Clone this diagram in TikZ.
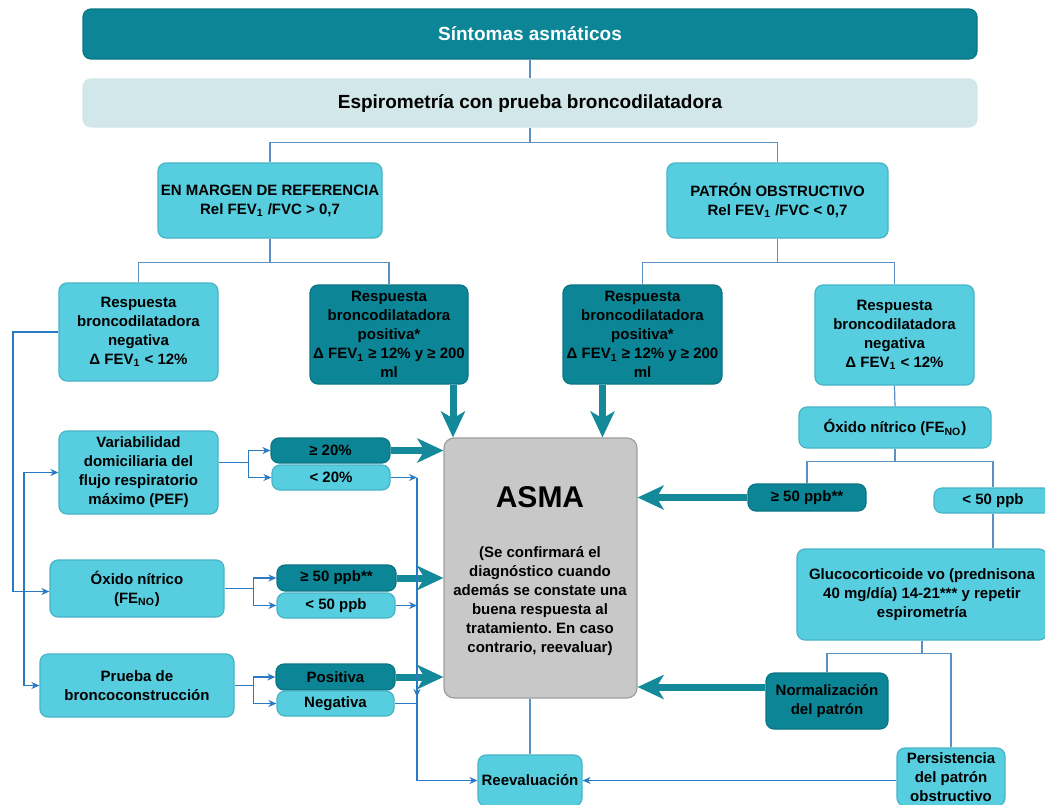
\documentclass[tikz,border=0pt]{standalone}
\usepackage{fontspec}
\setmainfont{Liberation Sans}
\usepackage{tikz}
\usetikzlibrary{arrows.meta}
\frenchspacing

\definecolor{azulosc}{HTML}{0C8696}
\definecolor{azuloscborde}{HTML}{0A7583}
\definecolor{cian}{HTML}{56CEDF}
\definecolor{cianborde}{HTML}{46B4C6}
\definecolor{grisazul}{HTML}{D2E7E9}
\definecolor{lineaazul}{HTML}{5A91C4}
\definecolor{flechaazul}{HTML}{2A79C4}
\definecolor{flechateal}{HTML}{13899A}
\definecolor{grisasma}{HTML}{C8C8C8}
\definecolor{grisborde}{HTML}{9E9E9E}

\tikzset{
    tam/.style 2 args={minimum width=#1*0.5pt,minimum height=#2*0.5pt},
    caja/.style={draw=cianborde,fill=cian,rounded corners=4pt,align=center,
        inner sep=0pt,line width=0.6pt},
    cajaosc/.style={caja,draw=azuloscborde,fill=azulosc},
    linea/.style={draw=lineaazul,line width=0.6pt},
    flechafina/.style={draw=flechaazul,line width=0.7pt,->},
    flechagruesa/.style={draw=flechateal,line width=3.5pt,
        -{Stealth[length=13pt,width=12pt,inset=3.5pt]}}
}

\begin{document}
\begin{tikzpicture}[x=0.5pt,y=-0.5pt,font=\fontsize{7.5}{9.5}\selectfont\bfseries,
    >={Stealth[length=4pt,width=3.5pt]}]
    \path[use as bounding box] (0,0) rectangle (1045,804);

    % Cabecera.
    \node[cajaosc,tam={894}{50},text=white,font=\fontsize{9.5}{11}\selectfont\bfseries]
        (sintomas) at (530,34) {Síntomas asmáticos};
    \node[caja,draw=grisazul,fill=grisazul,tam={894}{48},font=\fontsize{9.5}{11}\selectfont\bfseries]
        (espiro) at (530,103) {Espirometría con prueba broncodilatadora};
    \draw[linea] (sintomas.south) -- (espiro.north);

    % Patrones espirométricos.
    \node[caja,tam={224}{75}] (margen) at (270,200.5)
        {EN MARGEN DE REFERENCIA\\Rel FEV\textsubscript{1} /FVC > 0,7};
    \node[caja,tam={221}{75}] (patron) at (777.5,200.5)
        {PATRÓN OBSTRUCTIVO\\Rel FEV\textsubscript{1} /FVC < 0,7};
    \draw[linea] (espiro.south) -- (espiro.south |- 0,143);
    \draw[linea] (margen.north) -- ++(0,-20) -| (patron.north);

    % Respuesta broncodilatadora.
    \node[caja,tam={159}{98}] (negizq) at (138.5,332)
        {Respuesta\\broncodilatadora\\negativa\\Δ FEV\textsubscript{1} < 12\%};
    \node[cajaosc,tam={158}{99}] (posizq) at (389,334.5)
        {Respuesta\\broncodilatadora\\positiva*\\Δ FEV\textsubscript{1} ≥ 12\% y ≥ 200\\ml};
    \node[cajaosc,tam={159}{99}] (posder) at (642.5,334.5)
        {Respuesta\\broncodilatadora\\positiva*\\Δ FEV\textsubscript{1} ≥ 12\% y ≥ 200\\ml};
    \node[caja,tam={159}{100}] (negder) at (894.5,335)
        {Respuesta\\broncodilatadora\\negativa\\Δ FEV\textsubscript{1} < 12\%};
    \draw[linea] (margen.south) -- ++(0,24) -| (negizq.north);
    \draw[linea] (margen.south) ++(0,24) -| (posizq.north);
    \draw[linea] (patron.south) -- ++(0,24) -| (posder.north);
    \draw[linea] (patron.south) ++(0,24) -| (negder.north);

    % Diagnóstico central.
    \node[draw=grisborde,fill=grisasma,rounded corners=5pt,line width=0.6pt,tam={193}{260}]
        (asma) at (540.5,568) {};
    \node (asmatit) at (540,497) {\fontsize{15}{18}\selectfont ASMA};
    \node[align=center] (asmatxt) at (540,601)
        {(Se confirmará el\\diagnóstico cuando\\además se constate una\\buena respuesta al\\tratamiento. En caso\\contrario, reevaluar)};
    \draw[flechagruesa] ([xshift=32pt]posizq.south) -- ([xshift=32pt]posizq.south |- asma.north);
    \draw[flechagruesa] ([xshift=-20pt]posder.south) -- ([xshift=-20pt]posder.south |- asma.north);

    % Pruebas complementarias (columna izquierda).
    \node[caja,tam={159}{83}] (variab) at (138.5,472.5)
        {Variabilidad\\domiciliaria del\\flujo respiratorio\\máximo (PEF)};
    \node[caja,tam={174}{57}] (oxizq) at (137,588.5) {Óxido nítrico\\(FE\textsubscript{NO})};
    \node[caja,tam={194}{63}] (prueba) at (137,685.5) {Prueba de\\broncoconstrucción};
    \draw[flechafina] (negizq.west) -- (13,332) |- ([yshift=-1.5pt]oxizq.west);
    \draw[flechafina] (24,591.5) |- (variab.west);
    \draw[flechafina] (24,591.5) |- (prueba.west);

    \node[cajaosc,tam={119}{25}] (var1) at (330.5,450.5) {≥ 20\%};
    \node[caja,tam={118}{25}] (var2) at (331,477.5) {< 20\%};
    \node[cajaosc,tam={119}{26}] (oxi1) at (336.5,578) {≥ 50 ppb**};
    \node[caja,tam={118}{25}] (oxi2) at (336,605.5) {< 50 ppb};
    \node[cajaosc,tam={119}{26}] (pos) at (335.5,677) {Positiva};
    \node[caja,tam={117}{25}] (neg) at (335.5,703.5) {Negativa};

    \draw[flechafina] ([yshift=5pt]variab.east) -- ++(30,0) |- (var1.west);
    \draw[flechafina] ([yshift=5pt]variab.east) ++(30,0) |- (var2.west);
    \draw[flechafina] (oxizq.east) -- ++(29,0) |- (oxi1.west);
    \draw[flechafina] (oxizq.east) ++(29,0) |- (oxi2.west);
    \draw[flechafina] (prueba.east) -- ++(19,0) |- (pos.west);
    \draw[flechafina] (prueba.east) ++(19,0) |- (neg.west);

    \foreach \n in {var1,oxi1,pos}{
        \draw[flechagruesa] (\n.east) -- (\n.east -| asma.west);
    }

    % Reevaluación.
    \node[caja,tam={104}{51}] (reeval) at (530,780.5) {Reevaluación};
    \coordinate (bajada) at (417,780.5);
    \foreach \n in {var2,oxi2}{
        \draw[flechafina] (\n.east) -- (\n.east -| bajada);
    }
    \draw[linea,draw=flechaazul] (neg.east) -- (neg.east -| bajada);
    \draw[flechafina] (var2.east -| bajada) -- (bajada) -- (reeval.west);
    \draw[flechafina] (417,660) -- (417,697);
    \draw[linea] (reeval.north |- asma.south) -- (reeval.north);

    % Patrón obstructivo (columna derecha).
    \node[caja,tam={192}{41}] (oxider) at (895,427.5) {Óxido nítrico (FE\textsubscript{NO})};
    \node[cajaosc,tam={118}{27}] (oxd1) at (807,497.5) {≥ 50 ppb**};
    \node[caja,tam={118}{25}] (oxd2) at (993,500.5) {< 50 ppb};
    \node[caja,tam={250}{91}] (gluco) at (922,594.5)
        {Glucocorticoide vo (prednisona\\40 mg/día) 14-21*** y repetir\\espirometría};
    \node[cajaosc,tam={122}{56}] (normal) at (827,701) {Normalización\\del patrón};
    \node[caja,tam={108}{58}] (persist) at (951,777) {Persistencia\\del patrón\\obstructivo};

    \draw[linea] (negder.south) -- (oxider.north);
    \draw[linea] (oxider.south) -- ++(0,13) -| (oxd1.north);
    \draw[linea] (oxider.south) ++(0,13) -| (oxd2.north);
    \draw[linea] (oxd2.south) -- (oxd2.south |- gluco.north);
    \draw[linea] (gluco.south) -- ++(0,13) -| (normal.north);
    \draw[linea] (gluco.south) ++(0,13) -| (persist.north);

    \draw[flechagruesa] (oxd1.west) -- (oxd1.west -| asma.east);
    \draw[flechagruesa] ([yshift=7pt]normal.west) -- ([yshift=7pt]normal.west -| asma.east);
    \draw[flechafina] (persist.west |- reeval.east) -- (reeval.east);
\end{tikzpicture}
\end{document}
